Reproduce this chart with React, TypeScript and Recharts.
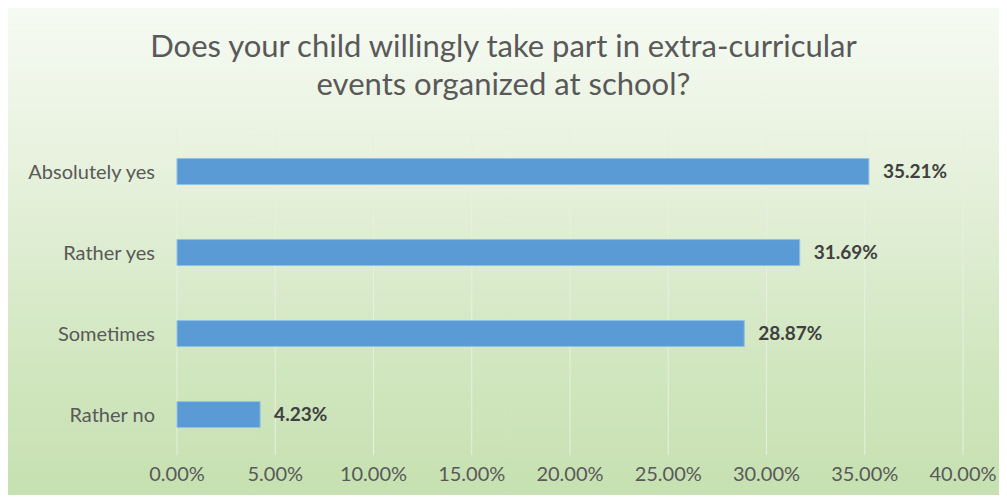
import React from "react";
import { BarChart, Bar, XAxis, YAxis, CartesianGrid, LabelList } from "recharts";

const categories = ["Absolutely yes", "Rather yes", "Sometimes", "Rather no"];
const values = [35.21, 31.69, 28.87, 4.23];
const xTicks = [0, 5, 10, 15, 20, 25, 30, 35, 40];
const title = ["Does your child willingly take part in extra-curricular", "events organized at school?"];

const data = categories.map((c, i) => ({ name: c, value: values[i] }));

const FONT = "Lato, 'Open Sans', sans-serif";

export default function App() {
  return (
    <div
      style={{
        position: "relative",
        width: 1007,
        height: 503,
        margin: -8,
        background: "#ffffff",
        overflow: "hidden",
        fontFamily: FONT,
      }}
    >
      <div
        style={{
          position: "absolute",
          left: 6,
          top: 0,
          width: 1001,
          height: 503,
          background: "linear-gradient(to bottom, #f7fbf4 0%, #e6f1dc 35%, #d2e7c1 70%, #c6e0b0 100%)",
        }}
      />
      <div
        style={{
          position: "absolute",
          left: 0,
          top: 26,
          width: 1007,
          textAlign: "center",
          color: "#595959",
          fontSize: 31,
          lineHeight: "38px",
        }}
      >
        <div>{title[0]}</div>
        <div>{title[1]}</div>
      </div>
      <div style={{ position: "absolute", left: 0, top: 0 }}>
        <BarChart
          width={1007}
          height={503}
          data={data}
          layout="vertical"
          margin={{ top: 131, right: 44, bottom: 18, left: 0 }}
          barCategoryGap="34%"
        >
          <CartesianGrid horizontal={false} vertical={true} stroke="#e8efe0" strokeWidth={1} />
          <XAxis
            type="number"
            domain={[0, 40]}
            ticks={xTicks}
            height={30}
            axisLine={false}
            tickLine={false}
            tickMargin={6}
            tickFormatter={(v: number) => `${v.toFixed(2)}%`}
            tick={{ fill: "#595959", fontSize: 20, fontFamily: FONT }}
          />
          <YAxis
            type="category"
            dataKey="name"
            width={177}
            axisLine={false}
            tickLine={false}
            tickSize={0}
            tickMargin={22}
            tick={{ fill: "#595959", fontSize: 20, fontFamily: FONT }}
          />
          <Bar dataKey="value" fill="#5b9bd5" stroke="#8fc0e6" strokeWidth={1} isAnimationActive={false}>
            <LabelList
              dataKey="value"
              position="right"
              offset={14}
              formatter={(v: number) => `${v.toFixed(2)}%`}
              style={{ fill: "#404040", fontSize: 19, fontWeight: 700, fontFamily: FONT }}
            />
          </Bar>
        </BarChart>
      </div>
    </div>
  );
}
